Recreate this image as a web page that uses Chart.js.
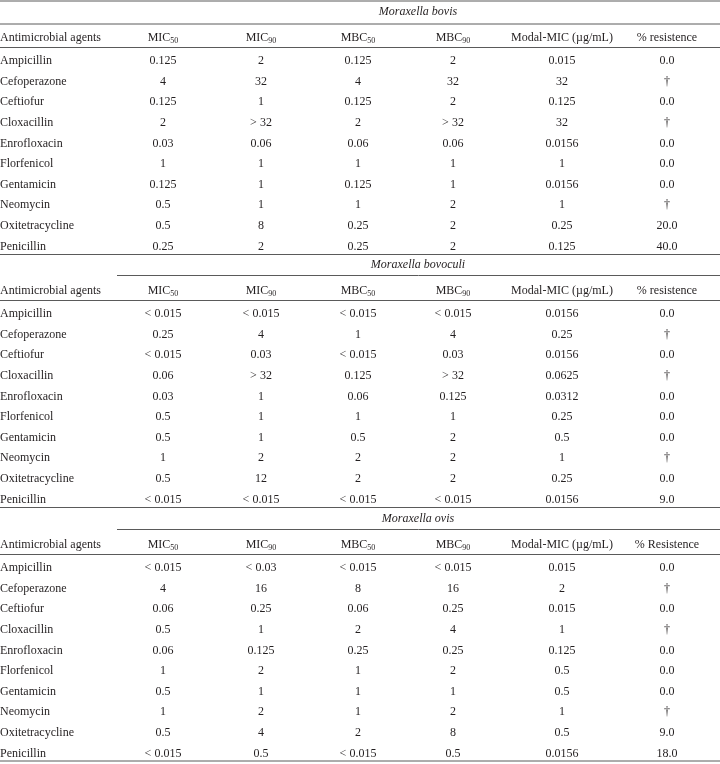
<!DOCTYPE html>
<html>
<head>
<meta charset="utf-8">
<script src="https://cdn.jsdelivr.net/npm/chart.js@4.4.1/dist/chart.umd.min.js"></script>
<style>
  html, body { margin: 0; padding: 0; background: #fff; }
  canvas { display: block; }
</style>
</head>
<body>
<canvas id="tbl" width="720" height="764"></canvas>
<script>
// ── data ────────────────────────────────────────────
const species = ['Moraxella bovis', 'Moraxella bovoculi', 'Moraxella ovis'];
const agents  = ['Ampicillin', 'Cefoperazone', 'Ceftiofur', 'Cloxacillin', 'Enrofloxacin',
                 'Florfenicol', 'Gentamicin', 'Neomycin', 'Oxitetracycline', 'Penicillin'];
const headMain = ['MIC', 'MIC', 'MBC', 'MBC', 'Modal-MIC (µg/mL)'];
const headSub  = ['50', '90', '50', '90', ''];
const resistLabels = ['% resistence', '% resistence', '% Resistence'];

// MIC50, MIC90, MBC50, MBC90, Modal-MIC, % resistence
const bovisRows = [
  ['0.125', '2', '0.125', '2', '0.015', '0.0'],
  ['4', '32', '4', '32', '32', '†'],
  ['0.125', '1', '0.125', '2', '0.125', '0.0'],
  ['2', '> 32', '2', '> 32', '32', '†'],
  ['0.03', '0.06', '0.06', '0.06', '0.0156', '0.0'],
  ['1', '1', '1', '1', '1', '0.0'],
  ['0.125', '1', '0.125', '1', '0.0156', '0.0'],
  ['0.5', '1', '1', '2', '1', '†'],
  ['0.5', '8', '0.25', '2', '0.25', '20.0'],
  ['0.25', '2', '0.25', '2', '0.125', '40.0']
];
const bovoculiRows = [
  ['< 0.015', '< 0.015', '< 0.015', '< 0.015', '0.0156', '0.0'],
  ['0.25', '4', '1', '4', '0.25', '†'],
  ['< 0.015', '0.03', '< 0.015', '0.03', '0.0156', '0.0'],
  ['0.06', '> 32', '0.125', '> 32', '0.0625', '†'],
  ['0.03', '1', '0.06', '0.125', '0.0312', '0.0'],
  ['0.5', '1', '1', '1', '0.25', '0.0'],
  ['0.5', '1', '0.5', '2', '0.5', '0.0'],
  ['1', '2', '2', '2', '1', '†'],
  ['0.5', '12', '2', '2', '0.25', '0.0'],
  ['< 0.015', '< 0.015', '< 0.015', '< 0.015', '0.0156', '9.0']
];
const ovisRows = [
  ['< 0.015', '< 0.03', '< 0.015', '< 0.015', '0.015', '0.0'],
  ['4', '16', '8', '16', '2', '†'],
  ['0.06', '0.25', '0.06', '0.25', '0.015', '0.0'],
  ['0.5', '1', '2', '4', '1', '†'],
  ['0.06', '0.125', '0.25', '0.25', '0.125', '0.0'],
  ['1', '2', '1', '2', '0.5', '0.0'],
  ['0.5', '1', '1', '1', '0.5', '0.0'],
  ['1', '2', '1', '2', '1', '†'],
  ['0.5', '4', '2', '8', '0.5', '9.0'],
  ['< 0.015', '0.5', '< 0.015', '0.5', '0.0156', '18.0']
];
const sectionRows = [bovisRows, bovoculiRows, ovisRows];

// ── layout (scale units = px of the 720x764 sheet) ──
const colX       = [0, 163, 261, 358, 453, 562, 667];
const titleX     = 418;
const subLineX0  = 117;
const sectionTop = [0, 253, 507];
const ROW0 = 61, ROW_STEP = 20.6;
const INK  = '#231f20';
const RULE = '#5a5a5a';
const FONT = '"Liberation Serif", "DejaVu Serif", serif';

// build cells
const cells = [];
sectionTop.forEach((top, s) => {
  cells.push({ x: titleX, y: top + 12, text: species[s], italic: true });
  cells.push({ x: colX[0], y: top + 37.5, text: 'Antimicrobial agents', left: true });
  headMain.forEach((h, c) => {
    cells.push({ x: colX[c + 1], y: top + 37.5, text: h, sub: headSub[c] });
  });
  cells.push({ x: colX[6], y: top + 37.5, text: resistLabels[s] });
  sectionRows[s].forEach((row, r) => {
    const y = top + ROW0 + r * ROW_STEP;
    cells.push({ x: colX[0], y, text: agents[r], left: true });
    row.forEach((v, c) => cells.push({ x: colX[c + 1], y, text: v }));
  });
});

// build rules
const rules = [[0, 1]];
sectionTop.forEach((top, s) => {
  const last = s === sectionTop.length - 1;
  rules.push([s === 0 ? 0 : subLineX0, top + (s === 0 ? 24 : 22.5)]);
  rules.push([0, top + 47.5]);
  rules.push([0, last ? 761 : top + 254.5]);
});

const ruleSets = rules.map(([x0, y]) => ({
  type: 'line',
  data: [{ x: x0, y }, { x: 720, y }],
  borderColor: RULE,
  borderWidth: 1,
  pointRadius: 0,
  fill: false
}));

const cellText = {
  id: 'cellText',
  afterDatasetsDraw(chart) {
    const ctx  = chart.ctx;
    const meta = chart.getDatasetMeta(0);
    ctx.save();
    ctx.fillStyle = INK;
    ctx.textBaseline = 'middle';
    meta.data.forEach((pt, i) => {
      const c = cells[i];
      ctx.font = (c.italic ? 'italic ' : '') + '12px ' + FONT;
      const mainW = ctx.measureText(c.text).width;
      let subW = 0;
      if (c.sub) {
        ctx.font = '8px ' + FONT;
        subW = ctx.measureText(c.sub).width;
      }
      const x0 = c.left ? pt.x : pt.x - (mainW + subW) / 2;
      ctx.font = (c.italic ? 'italic ' : '') + '12px ' + FONT;
      ctx.textAlign = 'left';
      ctx.fillText(c.text, x0, pt.y);
      if (c.sub) {
        ctx.font = '8px ' + FONT;
        ctx.fillText(c.sub, x0 + mainW, pt.y + 3);
      }
    });
    ctx.restore();
  }
};

new Chart(document.getElementById('tbl'), {
  type: 'scatter',
  data: {
    datasets: [
      { data: cells.map(c => ({ x: c.x, y: c.y })), pointRadius: 0, showLine: false },
      ...ruleSets
    ]
  },
  options: {
    responsive: false,
    devicePixelRatio: 1,
    animation: false,
    layout: { padding: 0 },
    plugins: { legend: { display: false }, tooltip: { enabled: false } },
    scales: {
      x: { type: 'linear', min: 0, max: 720, display: false },
      y: { type: 'linear', min: 0, max: 764, reverse: true, display: false }
    }
  },
  plugins: [cellText]
});
</script>
</body>
</html>
